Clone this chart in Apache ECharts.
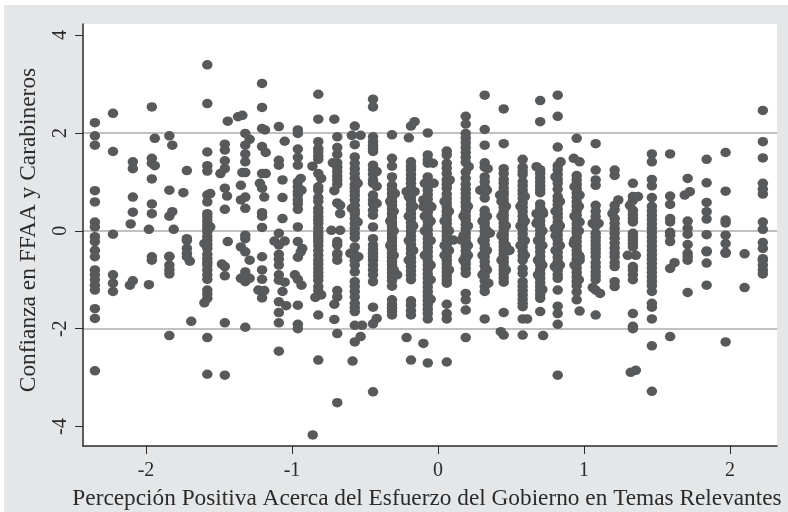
<!DOCTYPE html>
<html>
<head>
<meta charset="utf-8">
<script src="https://cdn.jsdelivr.net/npm/echarts@6/dist/echarts.min.js"></script>
<style>
html, body { margin: 0; padding: 0; background: #fff; }
#panel { position: absolute; left: 4px; top: 5px; width: 784px; height: 507px; background: #e4e6e8; }
#chart { position: absolute; left: 0; top: 0; width: 788px; height: 512px; }
</style>
</head>
<body>
<div id="panel"></div>
<div id="chart"></div>
<script>
const xTitle = 'Percepción Positiva Acerca del Esfuerzo del Gobierno en Temas Relevantes'
const yTitle = 'Confianza en FFAA y Carabineros'
const xTicks = [-2, -1, 0, 1, 2]
const yTicks = [-4, -2, 0, 2, 4]

// the responses sit on discrete x levels, one list of y for each level
const colX = [-2.35, -2.226, -2.09, -1.96, -1.84, -1.72, -1.58, -1.46, -1.32, -1.205, -1.09, -0.96, -0.82, -0.69, -0.57, -0.445, -0.315, -0.185, -0.07, 0.06, 0.19, 0.32, 0.45, 0.58, 0.70, 0.82, 0.95, 1.08, 1.21, 1.335, 1.465, 1.59, 1.71, 1.84, 1.97, 2.10, 2.225]
const colY = [
  [2.21, 1.94, 1.75, 0.82, 0.59, 0.18, 0.08, -0.12, -0.22, -0.40, -0.53, -0.80, -0.90, -1.0, -1.11, -1.21, -1.59, -1.79, -2.86],
  [2.40, 1.62, -0.07, -0.90, -1.07, -1.24],
  [1.41, 1.27, 0.69, 0.38, -1.02],
  [2.53, 1.48, 1.38, 1.06, 0.55, 0.35, -0.53, -0.60],
  [1.94, 0.83, 0.30, -0.52, -0.53, -0.70, -0.80, -0.88, -2.14],
  [1.23, -0.16, -0.20, -0.36, -0.46, -0.53],
  [3.39, 2.60, 1.61, 1.33, 1.22, 0.73, 0.59, 0.35, 0.28, 0.20, 0.12, 0.05, -0.02, -0.12, -0.20, -0.28, -0.36, -0.48, -0.57, -0.64, -0.70, -0.80, -0.90, -0.99, -1.21, -1.29, -1.38, -2.18, -2.93],
  [1.77, 1.65, 1.43, 1.27, 0.87, 0.44, -0.73, -0.92, -1.88, -2.95],
  [1.99, 1.75, 1.57, 1.41, 1.19, 0.69, 0.46, -0.09, -0.16, -0.43, -0.84, -1.04, -1.97],
  [3.01, 2.52, 2.09, 1.72, 1.17, 0.87, 0.37, 0.30, 0.07, -0.53, -0.80, -0.99, -1.37],
  [2.13, 1.44, 1.34, -0.05, -0.29, -0.48, -0.58, -0.70, -0.90, -1.01, -1.45, -1.67, -1.88, -2.46],
  [2.06, 1.99, 1.67, 1.50, 1.34, 1.00, 0.90, 0.80, 0.73, 0.63, 0.55, 0.44, 0.08, -0.22, -0.54, -0.99, -1.52, -1.91, -2.0],
  [2.79, 2.28, 1.82, 1.68, 1.61, 1.53, 1.46, 1.17, 0.90, 0.83, 0.68, 0.60, 0.46, 0.38, 0.29, 0.22, 0.15, 0.05, -0.03, -0.09, -0.16, -0.22, -0.30, -0.40, -0.50, -0.60, -0.68, -0.77, -0.85, -0.93, -1.01, -1.14, -1.22, -1.72, -2.64],
  [1.92, 1.70, 1.56, 1.39, 1.30, 1.21, 1.12, 1.04, 0.95, 0.57, -0.22, -0.29, -0.46, -0.49, -0.60, -1.22, -1.35, -2.10, -3.51],
  [2.14, 1.76, 1.51, 1.38, 1.27, 1.17, 1.07, 0.95, 0.88, 0.80, 0.72, 0.63, 0.52, 0.42, 0.35, 0.25, 0.15, 0.05, -0.05, -0.14, -0.33, -0.49, -0.60, -0.70, -0.84, -1.04, -1.14, -1.24, -1.35, -1.48, -1.57, -1.65, -1.93, -2.27],
  [2.69, 2.53, 1.92, 1.82, 1.75, 1.68, 1.62, 1.34, 1.25, 1.15, 1.04, 0.97, 0.73, 0.63, 0.55, 0.42, 0.32, 0.08, -0.16, -0.29, -0.38, -0.46, -0.53, -0.60, -0.70, -0.80, -0.90, -1.04, -1.56, -1.90, -3.29],
  [1.96, 1.48, 1.32, 1.10, 0.93, 0.85, 0.76, 0.68, 0.60, 0.52, 0.44, 0.35, 0.27, 0.18, 0.10, 0.02, -0.06, -0.14, -0.22, -0.30, -0.38, -0.46, -0.54, -0.62, -0.70, -0.78, -0.86, -0.94, -1.02, -1.13, -1.41, -1.50, -1.58, -1.65, -1.72],
  [2.14, 1.41, 1.32, 1.24, 1.15, 1.06, 0.97, 0.88, 0.80, 0.71, 0.62, 0.53, 0.44, 0.35, 0.26, 0.17, 0.08, -0.01, -0.10, -0.19, -0.28, -0.37, -0.46, -0.55, -0.64, -0.73, -0.82, -0.91, -1.0, -1.43, -1.52, -1.63, -1.72, -2.64],
  [2.0, 1.55, 1.45, 1.38, 1.10, 1.01, 0.92, 0.83, 0.74, 0.65, 0.56, 0.47, 0.38, 0.29, 0.20, 0.11, 0.02, -0.07, -0.16, -0.25, -0.34, -0.43, -0.52, -0.61, -0.70, -0.79, -0.88, -0.97, -1.06, -1.15, -1.24, -1.33, -1.42, -1.51, -1.60, -1.69, -1.80, -2.70],
  [1.63, 1.55, 1.38, 1.28, 1.17, 1.04, 0.95, 0.87, 0.75, 0.66, 0.57, 0.49, 0.40, 0.32, 0.23, 0.15, 0.06, -0.02, -0.11, -0.19, -0.28, -0.36, -0.44, -0.52, -0.60, -0.68, -0.76, -0.84, -0.92, -1.0, -1.07, -1.50, -1.69, -1.80, -2.68],
  [2.34, 2.18, 1.99, 1.90, 1.80, 1.70, 1.60, 1.50, 1.40, 1.20, 1.07, 0.95, 0.85, 0.76, 0.67, 0.58, 0.49, 0.40, 0.31, 0.22, 0.13, 0.04, -0.05, -0.14, -0.23, -0.32, -0.41, -0.50, -0.59, -0.68, -0.77, -0.87, -1.28, -1.41, -1.62, -2.18],
  [2.77, 2.07, 1.75, 1.39, 1.30, 1.10, 1.00, 0.90, 0.78, 0.67, 0.42, 0.33, 0.25, 0.16, 0.08, -0.01, -0.10, -0.19, -0.28, -0.36, -0.45, -0.53, -0.63, -0.72, -0.84, -0.93, -1.02, -1.14, -1.24, -1.80],
  [2.49, 1.78, 1.27, 1.17, 1.05, 0.97, 0.88, 0.80, 0.73, 0.64, 0.56, 0.48, 0.40, 0.32, 0.24, 0.16, 0.08, 0.0, -0.08, -0.16, -0.24, -0.32, -0.40, -0.48, -0.56, -0.64, -0.72, -0.80, -0.88, -0.96, -1.05, -1.67, -2.13],
  [1.46, 1.30, 1.22, 1.15, 1.0, 0.92, 0.83, 0.75, 0.66, 0.57, 0.48, 0.39, 0.30, 0.21, 0.12, 0.03, -0.06, -0.15, -0.24, -0.33, -0.42, -0.51, -0.60, -0.77, -0.87, -1.04, -1.13, -1.22, -1.31, -1.40, -1.48, -1.55, -1.80, -2.13],
  [2.66, 2.23, 1.25, 1.17, 1.08, 1.0, 0.92, 0.85, 0.78, 0.55, 0.47, 0.38, 0.29, 0.20, 0.11, 0.02, -0.07, -0.16, -0.25, -0.34, -0.43, -0.52, -0.61, -0.70, -0.79, -0.88, -0.97, -1.06, -1.14, -1.22, -1.30, -1.38, -1.65],
  [2.77, 2.34, 1.71, 1.33, 1.25, 1.15, 1.05, 0.97, 0.85, 0.70, 0.62, 0.53, 0.44, 0.35, 0.27, 0.18, 0.09, 0.0, -0.09, -0.18, -0.27, -0.36, -0.45, -0.54, -0.63, -0.72, -0.81, -0.90, -0.97, -1.21, -1.54, -1.69, -1.91, -2.95],
  [1.89, 1.13, 1.04, 0.95, 0.86, 0.77, 0.68, 0.59, 0.50, 0.41, 0.32, 0.23, 0.14, 0.05, -0.04, -0.13, -0.22, -0.31, -0.40, -0.49, -0.58, -0.67, -0.76, -0.85, -0.94, -1.03, -1.12, -1.25, -1.41],
  [1.78, 1.24, 1.04, 0.93, 0.52, 0.40, 0.29, 0.20, 0.10, -0.05, -0.13, -0.21, -0.29, -0.37, -0.45, -0.53, -0.65, -0.74, -0.84, -0.92, -1.00, -1.21, -1.72],
  [1.24, 1.13, 0.52, 0.43, 0.25, 0.15, 0.05, -0.05, -0.15, -0.25, -0.35, -0.45, -0.53, -0.65, -0.73, -1.04, -1.14],
  [0.97, 0.70, 0.62, 0.42, 0.33, 0.25, 0.18, -0.05, -0.12, -0.19, -0.26, -0.33, -0.73, -0.80, -0.90, -1.00, -1.69, -1.95, -2.0],
  [1.57, 1.41, 1.05, 0.92, 0.68, 0.50, 0.41, 0.32, 0.23, 0.14, 0.05, -0.04, -0.13, -0.22, -0.31, -0.40, -0.49, -0.58, -0.67, -0.76, -0.85, -0.94, -1.03, -1.12, -1.24, -1.48, -1.56, -1.80, -2.35, -3.28],
  [1.57, 0.71, 0.54, 0.25, 0.18, -0.03, -0.09, -0.22, -0.77, -2.16],
  [1.07, 0.20, 0.05, -0.07, -0.28, -0.46, -0.53, -0.60, -1.26],
  [1.46, 0.98, 0.58, 0.39, 0.24, -0.08, -0.41, -0.43, -0.66, -1.11],
  [1.60, 0.81, 0.22, 0.16, -0.09, -0.26, -0.44, -0.46, -2.27],
  [-0.47, -1.16],
  [2.46, 1.82, 1.49, 0.97, 0.85, 0.75, 0.18, 0.03, -0.24, -0.36, -0.57, -0.60, -0.70, -0.80, -0.88]
]

// jittered points that stray from their level
const offX = [-0.858, -2.105, -2.11, -1.94, -1.94, -1.98, -1.98, -1.82, -1.82, -1.81, -1.744, -1.70, -1.69, -1.56, -1.56, -1.60, -1.60, -1.44, -1.44, -1.445, -1.49, -1.48, -1.34, -1.37, -1.34, -1.35, -1.35, -1.35, -1.35, -1.29, -1.29, -1.29, -1.185, -1.18, -1.18, -1.22, -1.23, -1.19, -1.19, -1.05, -1.05, -1.05, -1.12, -1.065, -1.065, -1.065, -1.065, -1.04, -0.935, -0.935, -0.93, -0.94, -0.94, -0.98, -0.86, -0.80, -0.80, -0.84, -0.71, -0.71, -0.72, -0.73, -0.67, -0.67, -0.67, -0.71, -0.71, -0.59, -0.59, -0.53, -0.55, -0.55, -0.60, -0.545, -0.52, -0.53, -0.585, -0.42, -0.42, -0.42, -0.42, -0.295, -0.28, -0.16, -0.2, -0.215, -0.215, -0.16, -0.035, -0.09, -0.03, -0.10, -0.10, -0.045, -0.10, 0.08, 0.105, 0.21, 0.16, 0.29, 0.34, 0.355, 0.345, 0.335, 0.425, 0.49, 0.43, 0.61, 0.675, 0.675, 0.675, 0.72, 0.72, 0.84, 0.80, 0.80, 0.93, 0.97, 0.97, 0.97, 0.97, 0.97, 0.97, 0.93, 1.06, 1.06, 1.11, 1.10, 1.235, 1.195, 1.37, 1.315, 1.30, 1.355, 1.355, 1.32, 1.62, 1.69, 1.725]
const offY = [-4.17, 0.14, -1.11, 1.89, 1.33, 0.03, -1.10, 1.75, 0.39, 0.03, 0.78, -0.62, -1.85, 0.76, 0.08, -0.26, -1.47, 2.24, -0.22, 0.71, 1.17, -0.68, 2.36, 2.33, 1.19, 0.93, 0.63, -0.33, -0.97, 1.87, -0.60, -0.97, 2.06, 1.60, 1.17, 0.97, -1.21, 0.69, -1.22, 1.83, -0.21, -1.05, -0.21, 1.04, 0.68, 0.25, -1.24, -1.53, 0.83, -1.11, -0.36, 1.07, -0.43, -0.90, 1.32, 1.07, -1.31, -1.36, 2.28, 0.82, 1.39, 0.01, 0.01, 0.52, 0.35, -1.50, -1.81, 1.95, 0.46, 1.95, 0.97, 0.18, -0.46, -0.53, -1.93, -2.16, -2.66, 1.21, 0.91, 0.56, -1.79, 0.76, -0.90, 2.23, 1.90, 0.80, -2.18, 0.80, 1.38, 0.97, 0.97, 0.63, 0.49, 0.49, -2.30, 1.04, -0.19, 1.31, -0.19, 0.83, 1.27, -0.05, -1.07, 0.83, 0.73, -0.40, -2.06, -1.80, 1.31, 0.35, 0.15, 0.35, -2.14, 1.41, 0.05, -0.73, 1.48, 1.41, 0.73, 0.18, -0.53, -0.60, -1.64, -0.26, 0.15, -1.16, -1.28, 0.15, 0.63, 0.35, 0.70, 0.52, -0.50, -0.50, -2.85, -2.89, -0.65, 0.73, 0.80]

// bumps along the edges of the crowded levels
const edgeX = [-0.327, -0.303, -0.2, -0.17, -0.09, -0.05, 0.045, 0.075, 0.175, 0.205, 0.305, 0.335, 0.435, 0.465, 0.565, 0.595, 0.685, 0.715, 0.805, 0.835, 0.935, 0.965]
const edgeY = [
  [0.6, 0.2, -0.3], [0.4, 0.0, -0.5, -0.8],
  [0.7, 0.3, -0.2, -0.6], [0.5, 0.1, -0.4],
  [0.3, 0.0, -0.5], [0.2, -0.2, -0.7, -1.0, -1.4],
  [0.6, 0.2, -0.3, -0.5], [0.4, 0.0, -0.4, -0.8],
  [0.3, -0.1, -0.6], [0.5, 0.1, -0.3, -0.5],
  [0.2, -0.2, -0.5, -0.9], [0.3, 0.0, -0.4, -0.8],
  [0.6, 0.3, -0.1, -0.6], [0.5, 0.1, -0.3, -0.8],
  [0.5, 0.1, -0.3], [0.7, 0.2, -0.2, -0.5],
  [0.2, -0.2, -0.6, -0.9], [0.4, 0.0, -0.3, -0.7, -1.2],
  [1.1, 0.4, -0.1, -0.4], [0.6, 0.1, -0.3, -0.7],
  [0.9, 0.3, -0.2, -0.7], [0.5, 0.0, -0.5, -1.0]
]

const serif = '"Liberation Serif", serif'
const points = []
colX.forEach((x, i) => colY[i].forEach(y => points.push([x, y])))
offX.forEach((x, i) => points.push([x, offY[i]]))
edgeX.forEach((x, i) => edgeY[i].forEach(y => points.push([x, y])))

const myChart = echarts.init(document.getElementById('chart'))
myChart.setOption({
  animation: false,
  backgroundColor: 'transparent',
  grid: { left: 83, top: 24, right: 11, bottom: 66, outerBoundsMode: 'none', show: true, backgroundColor: '#fff', borderWidth: 0 },
  xAxis: {
    type: 'value',
    min: -2.4315,
    max: 2.322,
    name: xTitle,
    nameLocation: 'middle',
    nameGap: 41,
    nameTextStyle: { fontFamily: serif, fontSize: 23.3, color: '#2b2b2b', padding: [0, 6, 0, 0] },
    axisLine: { show: true, onZero: false, lineStyle: { color: '#2b2b2b', width: 1.5 } },
    axisTick: { show: true, length: 8, customValues: xTicks, lineStyle: { color: '#2b2b2b', width: 1 } },
    axisLabel: { customValues: xTicks, fontFamily: serif, fontSize: 20, color: '#2b2b2b', margin: 15 },
    splitLine: { show: false }
  },
  yAxis: {
    type: 'value',
    min: -4.396,
    max: 4.225,
    name: yTitle,
    nameLocation: 'middle',
    nameGap: 43,
    nameTextStyle: { fontFamily: serif, fontSize: 23.4, color: '#2b2b2b', padding: [0, 0, 0, 10] },
    axisLine: { show: true, onZero: false, lineStyle: { color: '#2b2b2b', width: 1.5 } },
    axisTick: { show: true, length: 8, customValues: yTicks, lineStyle: { color: '#2b2b2b', width: 1 } },
    axisLabel: { customValues: yTicks, rotate: 90, fontFamily: serif, fontSize: 20, color: '#2b2b2b', margin: 12 },
    splitLine: { show: true, showMinLine: false, showMaxLine: false, lineStyle: { color: '#adadad', width: 1.5 } }
  },
  series: [{
    type: 'scatter',
    data: points,
    symbol: 'circle',
    symbolSize: [10.5, 9.5],
    itemStyle: { color: '#58595b', opacity: 1 }
  }]
})
</script>
</body>
</html>
